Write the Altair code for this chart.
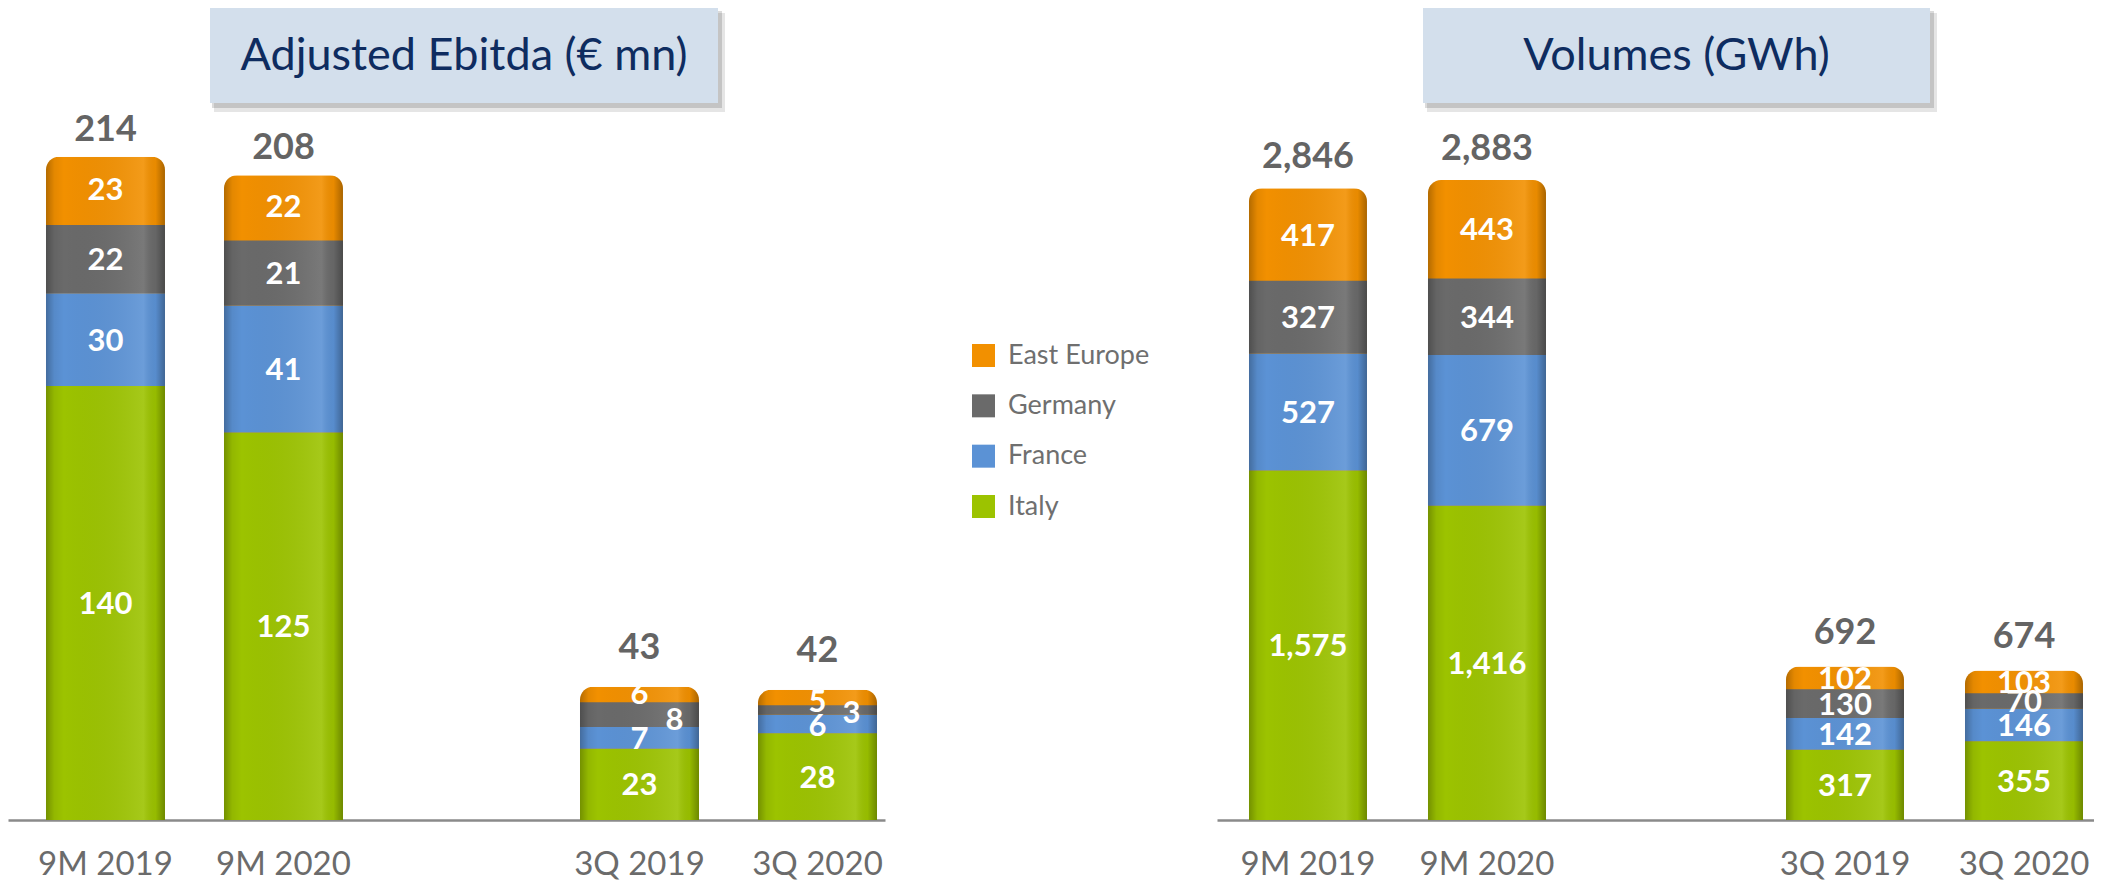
import altair as alt
import pandas as pd

# ---------------- data ----------------
periods = ["9M 2019", "9M 2020", "3Q 2019", "3Q 2020"]
x_domain = ["9M 2019", "9M 2020", " ", "3Q 2019", "3Q 2020"]
series = ["Italy", "France", "Germany", "East Europe"]          # bottom -> top
legend_order = ["East Europe", "Germany", "France", "Italy"]
colors = ["#9CC300", "#5B92D5", "#6A6A6A", "#F29000"]

ebitda_italy = [140, 125, 23, 28]
ebitda_france = [30, 41, 7, 6]
ebitda_germany = [22, 21, 8, 3]
ebitda_east = [23, 22, 6, 5]
ebitda_total = [214, 208, 43, 42]

vol_italy = [1575, 1416, 317, 355]
vol_france = [527, 679, 142, 146]
vol_germany = [327, 344, 130, 70]
vol_east = [417, 443, 102, 103]
vol_total = [2846, 2883, 692, 674]


def long_df(cols):
    rows = []
    for rank, (s, vals) in enumerate(zip(series, cols)):
        for p, v in zip(periods, vals):
            rows.append({"period": p, "series": s, "value": v, "rank": rank})
    return pd.DataFrame(rows)


ebitda_df = long_df([ebitda_italy, ebitda_france, ebitda_germany, ebitda_east])
vol_df = long_df([vol_italy, vol_france, vol_germany, vol_east])
ebitda_tot = pd.DataFrame({"period": periods, "total": ebitda_total})
vol_tot = pd.DataFrame({"period": periods, "total": vol_total})

FONT = "Lato"
color_scale = alt.Scale(domain=series, range=colors)
shade = alt.Gradient(
    gradient="linear", x1=0, x2=1, y1=0, y2=0,
    stops=[
        alt.GradientStop(color="rgba(0,0,0,0.26)", offset=0),
        alt.GradientStop(color="rgba(0,0,0,0.06)", offset=0.07),
        alt.GradientStop(color="rgba(0,0,0,0)", offset=0.15),
        alt.GradientStop(color="rgba(255,255,255,0.10)", offset=0.82),
        alt.GradientStop(color="rgba(0,0,0,0.04)", offset=0.92),
        alt.GradientStop(color="rgba(0,0,0,0.30)", offset=1),
    ],
)


def panel(seg_df, tot_df, ymax, pin, pout, align, title, bx1, bx2, specials, dy9, dy3):
    W, H = 877, 812
    xs = alt.Scale(domain=x_domain, paddingInner=pin, paddingOuter=pout, align=align)
    xaxis = alt.Axis(title=None, labelAngle=0, ticks=False, tickSize=0, labelPadding=44,
                     labelBaseline="middle", labelFont=FONT, labelFontSize=33,
                     labelColor="#6b6b6b", domainColor="#8a8a8a", domainWidth=2.5,
                     grid=False)
    ys = alt.Scale(domain=[0, ymax], nice=False, zero=True)
    X = alt.X("period:N", scale=xs, axis=xaxis, sort=x_domain)

    one = alt.Data(values=[{}])
    sh1 = alt.Chart(one).mark_rect(color="#000000", opacity=0.10).encode(
        x=alt.value(bx1 + 4), x2=alt.value(bx2 + 7), y=alt.value(5), y2=alt.value(104))
    sh2 = alt.Chart(one).mark_rect(color="#000000", opacity=0.14).encode(
        x=alt.value(bx1 + 2), x2=alt.value(bx2 + 4), y=alt.value(3), y2=alt.value(100))
    box = alt.Chart(one).mark_rect(color="#D3DFEC").encode(
        x=alt.value(bx1), x2=alt.value(bx2), y=alt.value(0), y2=alt.value(95))
    ttl = alt.Chart(one).mark_text(text=title, font=FONT, fontSize=45, color="#0E2C60",
                                   align="center", baseline="middle").encode(
        x=alt.value((bx1 + bx2) / 2), y=alt.value(48))

    top_bar = alt.Chart(tot_df).mark_bar(
        color=colors[-1], cornerRadiusTopLeft=13, cornerRadiusTopRight=13).encode(
        x=X, y=alt.Y("total:Q", scale=ys, axis=None))
    lower = alt.Chart(seg_df).transform_filter("datum.series != 'East Europe'").mark_bar().encode(
        x=X,
        y=alt.Y("value:Q", stack="zero", scale=ys, axis=None),
        color=alt.Color("series:N", scale=color_scale, legend=None),
        order=alt.Order("rank:Q", sort="ascending"),
    )
    overlay = alt.Chart(tot_df).mark_bar(
        color=shade, cornerRadiusTopLeft=13, cornerRadiusTopRight=13).encode(
        x=X, y=alt.Y("total:Q", scale=ys, axis=None))

    base_lab = alt.Chart(seg_df).transform_stack(
        stack="value", groupby=["period"], sort=[alt.SortField("rank", order="ascending")],
        as_=["v0", "v1"]).transform_calculate(
        mid="(datum.v0 + datum.v1) / 2", key="datum.period + '|' + datum.series")

    keys = [k for k, _, _ in specials]
    keys_js = "[" + ",".join("'" + k + "'" for k in keys) + "]"
    labels = [base_lab.transform_filter(f"indexof({keys_js}, datum.key) < 0").mark_text(
        font=FONT, fontWeight="bold", fontSize=31, color="white", baseline="middle", dy=2).encode(
        x=X, y=alt.Y("mid:Q", scale=ys, axis=None), text=alt.Text("value:Q", format=","))]
    for k, dx, dy in specials:
        labels.append(base_lab.transform_filter(f"datum.key == '{k}'").mark_text(
            font=FONT, fontWeight="bold", fontSize=31, color="white", baseline="middle",
            dx=dx, dy=dy).encode(
            x=X, y=alt.Y("mid:Q", scale=ys, axis=None), text=alt.Text("value:Q", format=",")))

    totals = []
    for prefix, dy in (("9M", dy9), ("3Q", dy3)):
        totals.append(alt.Chart(tot_df).transform_filter(
            f"indexof(datum.period, '{prefix}') == 0").mark_text(
            font=FONT, fontWeight="bold", fontSize=36, color="#646464", baseline="middle",
            dy=dy).encode(
            x=X, y=alt.Y("total:Q", scale=ys, axis=None), text=alt.Text("total:Q", format=",")))

    return alt.layer(sh1, sh2, box, ttl, top_bar, lower, overlay, *labels, *totals).properties(
        width=W, height=H)


left = panel(
    ebitda_df, ebitda_tot, 262, 0.3315, 0.1292, 0.826, "Adjusted Ebitda (€ mn)", 202, 710,
    [("3Q 2019|Germany", 35, 6), ("3Q 2020|East Europe", 0, 5),
     ("3Q 2020|Germany", 34, 4), ("3Q 2020|France", 0, 3)],
    -27, -39)

right = panel(
    vol_df, vol_tot, 3658, 0.3408, 0.1201, 0.744, "Volumes (GWh)", 206, 713,
    [],
    -31, -33)

leg_df = pd.DataFrame({"series": legend_order})
leg_y = alt.Y("series:N", scale=alt.Scale(domain=legend_order, range=[347.5, 498.5], padding=0),
              axis=None)
leg_sq = alt.Chart(leg_df).mark_square(size=529, opacity=1).encode(
    x=alt.value(98.5), y=leg_y, color=alt.Color("series:N", scale=color_scale, legend=None))
leg_tx = alt.Chart(leg_df).mark_text(font=FONT, fontSize=27, color="#6f6f6f", align="left",
                                     baseline="middle").encode(
    x=alt.value(123), y=leg_y, text="series:N")
legend = alt.layer(leg_sq, leg_tx).properties(width=332, height=812)

chart = alt.hconcat(left, legend, right, spacing=0, bounds="flush").properties(
    padding={"left": 0, "top": 0, "right": 0, "bottom": 0}, background="white"
).configure_view(strokeWidth=0)

chart.save("out.html", embed_options={"renderer": "svg", "actions": False})
